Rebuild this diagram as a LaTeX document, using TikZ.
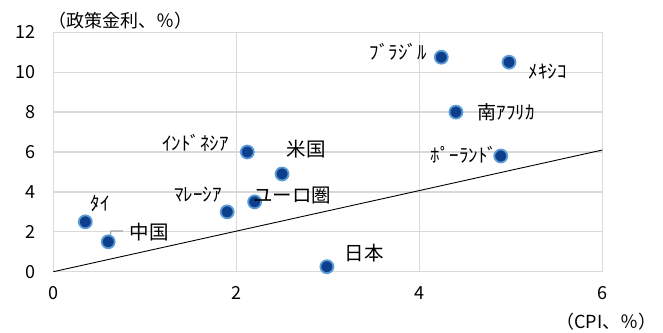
\documentclass[tikz,border=0pt]{standalone}
\usepackage{fontspec}
\setmainfont{Noto Sans CJK JP}
\definecolor{gridgray}{HTML}{D9D9D9}
\definecolor{dotblue}{HTML}{0E3F8C}
\definecolor{ringblue}{HTML}{5B9BD5}
\definecolor{leadgray}{HTML}{A6A6A6}
\begin{document}
\begin{tikzpicture}[x=91.5pt,y=19.95pt,
  gridline/.style={draw=gridgray,line width=1.3pt},
  dot/.style={circle,fill=dotblue,draw=ringblue,line width=1.8pt,minimum size=13pt,inner sep=0pt},
  big/.style={font=\fontsize{19.5}{19.5}\selectfont,inner sep=0pt},
  title/.style={font=\fontsize{18}{18}\selectfont,inner sep=0pt},
  kana/.style={font=\fontsize{19}{19}\selectfont,inner sep=0pt},
  tick/.style={font=\fontsize{18}{18}\selectfont,inner sep=0pt}]
\useasboundingbox (-0.5825,-3.022) rectangle (6.663,13.619);
% grid
\foreach \y in {2,4,...,12} \draw[gridline] (0,\y) -- (6,\y);
\foreach \x in {2,4,6} \draw[gridline] (\x,0) -- (\x,12);
\draw[gridline] (0,0) -- (0,12);
\draw[gridline] (0,0) -- (6,0);
% tick labels
\foreach \y in {0,2,...,12} \node[tick,anchor=east] at (-0.189,\y) {\y};
\foreach \x in {0,2,4,6} \node[tick] at (\x,-1.07) {\x};
% axis titles
\node[title] (ytitle) at (0.730,12.6) {（政策金利、％）};
\node[title] (xtitle) at (6.046,-2.51) {（CPI、％）};
% 45-degree line
\coordinate (o) at (0,0);
\coordinate (e) at (6,6.1);
\draw[black,line width=0.9pt] (o) -- (e);
% China leader
\coordinate (cbend) at (0.63,2.04);
\coordinate (cend) at (0.763,2.04);
% points
\node[dot] (thai) at (0.35,2.5) {};
\draw[leadgray,line width=1.3pt] (0.61,1.5) -- (cbend) -- (cend);
\node[dot] (china) at (0.6,1.5) {};
\node[dot] (malaysia) at (1.9,3.0) {};
\node[dot] (euro) at (2.2,3.5) {};
\node[dot] (us) at (2.5,4.9) {};
\node[dot] (indonesia) at (2.12,6.0) {};
\node[dot] (japan) at (2.99,0.25) {};
\node[dot] (brazil) at (4.24,10.75) {};
\node[dot] (mexico) at (4.98,10.5) {};
\node[dot] (safrica) at (4.40,8.0) {};
\node[dot] (poland) at (4.89,5.8) {};
% labels
\node[kana] (lthai) at (0.511,3.43) {ﾀｲ};
\node[big] (lchina) at (1.051,1.99) {中国};
\node[kana] (lmalaysia) at (1.581,3.89) {ﾏﾚｰｼｱ};
\node[big] (leuro) at (2.609,3.84) {ユーロ圏};
\node[big] (lus) at (2.767,6.15) {米国};
\node[kana] (lindonesia) at (1.556,6.47) {ｲﾝﾄﾞﾈｼｱ};
\node[big] (ljapan) at (3.396,0.94) {日本};
\node[kana] (lbrazil) at (3.767,11.03) {ﾌﾞﾗｼﾞﾙ};
\node[kana] (lmexico) at (5.406,10.03) {ﾒｷｼｺ};
\node[kana] (lsafrica) at (4.948,7.97) {南ｱﾌﾘｶ};
\node[kana] (lpoland) at (4.489,5.85) {ﾎﾟｰﾗﾝﾄﾞ};
\end{tikzpicture}
\end{document}
